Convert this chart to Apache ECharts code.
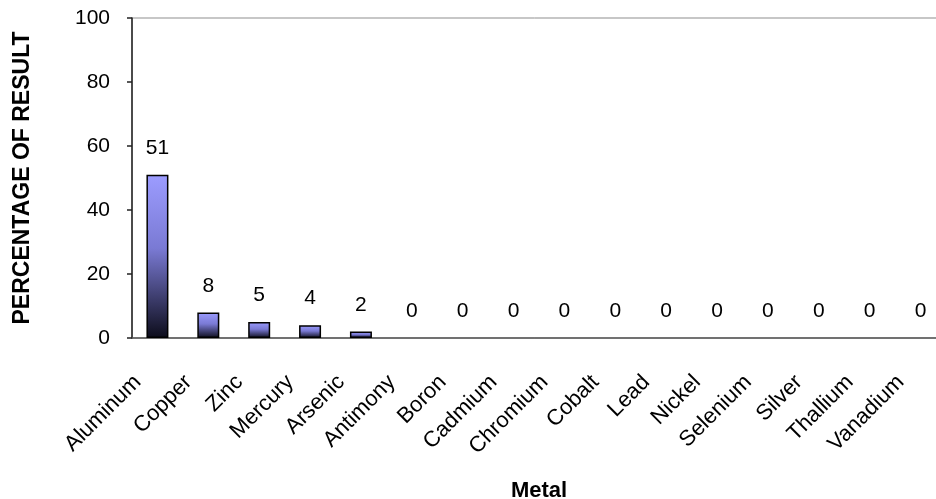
<!DOCTYPE html>
<html>
<head>
<meta charset="utf-8">
<script src="https://cdn.jsdelivr.net/npm/echarts@6/dist/echarts.min.js"></script>
<style>
  html, body { margin: 0; padding: 0; background: #fff; }
  #chart { width: 936px; height: 499px; }
</style>
</head>
<body>
<div id="chart"></div>
<script>
// Share of results by metal
const metals = ['Aluminum', 'Copper', 'Zinc', 'Mercury', 'Arsenic', 'Antimony', 'Boron',
  'Cadmium', 'Chromium', 'Cobalt', 'Lead', 'Nickel', 'Selenium', 'Silver', 'Thallium', 'Vanadium'];
const percentages = [51, 8, 5, 4, 2, 0, 0, 0, 0, 0, 0, 0, 0, 0, 0, 0];
const yTicks = [0, 20, 40, 60, 80, 100];

const font = 'Liberation Sans, Arial, sans-serif';
const chart = echarts.init(document.getElementById('chart'), null, { renderer: 'canvas' });

// Zero-height bars get no outline so only their value label shows
const barData = percentages.map(v => v === 0 ? { value: v, itemStyle: { borderWidth: 0 } } : v);

chart.setOption({
  animation: false,
  backgroundColor: '#ffffff',
  grid: {
    left: 132, top: 18, width: 814, height: 320,
    outerBoundsMode: 'none',
    containLabel: false,
    show: true, borderColor: '#8f8f8f', borderWidth: 1, backgroundColor: 'transparent'
  },
  xAxis: {
    type: 'category',
    data: metals,
    name: 'Metal',
    nameLocation: 'middle',
    nameGap: 142,
    nameTextStyle: { fontFamily: font, fontWeight: 'bold', fontSize: 22, color: '#000' },
    axisLine: { lineStyle: { color: '#555', width: 1.5 } },
    axisTick: { alignWithLabel: false, length: 7, lineStyle: { color: '#555', width: 1.5 } },
    axisLabel: {
      rotate: 45, margin: 21, interval: 0, padding: [0, 28, 0, 0],
      fontFamily: font, fontSize: 22, color: '#000'
    }
  },
  yAxis: {
    type: 'value',
    min: yTicks[0],
    max: yTicks[yTicks.length - 1],
    interval: yTicks[1] - yTicks[0],
    name: 'PERCENTAGE OF RESULT',
    nameLocation: 'middle',
    nameGap: 98,
    nameTextStyle: { fontFamily: font, fontWeight: 'bold', fontSize: 23, color: '#000' },
    axisLine: { show: true, lineStyle: { color: '#222', width: 1.5 } },
    axisTick: { show: true, length: 5, lineStyle: { color: '#222', width: 1.5 } },
    axisLabel: { margin: 22, fontFamily: font, fontSize: 21, color: '#000' },
    splitLine: { show: false }
  },
  series: [{
    type: 'bar',
    data: barData,
    barWidth: 22,
    itemStyle: {
      borderColor: '#000',
      borderWidth: 1.5,
      color: new echarts.graphic.LinearGradient(0, 0, 0, 1, [
        { offset: 0, color: '#9c9cff' },
        { offset: 0.45, color: '#7a7ad4' },
        { offset: 1, color: '#0c0c1a' }
      ])
    },
    label: {
      show: true,
      position: 'top',
      distance: 16,
      fontFamily: font,
      fontSize: 21,
      color: '#000'
    }
  }]
});
</script>
</body>
</html>
